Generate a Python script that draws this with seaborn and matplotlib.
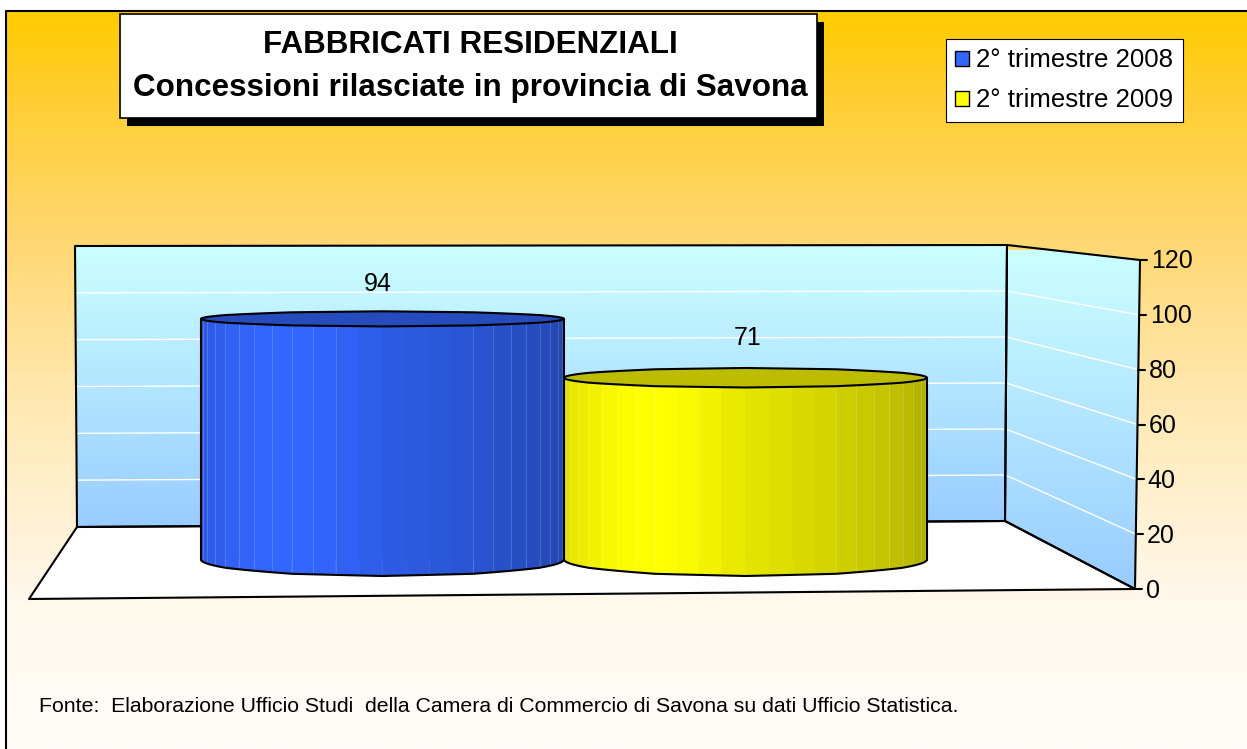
import numpy as np
import matplotlib
matplotlib.use('Agg')
import matplotlib.pyplot as plt
from matplotlib.patches import Polygon, Rectangle
import seaborn as sns

#chart values
periodi = ['2° trimestre 2008', '2° trimestre 2009']
valori = [94, 71]
colori = ['#3366FF', '#FFFF00']
tick_valori = [0, 20, 40, 60, 80, 100, 120]
titolo = 'FABBRICATI RESIDENZIALI\nConcessioni rilasciate in provincia di Savona'
fonte = 'Fonte:  Elaborazione Ufficio Studi  della Camera di Commercio di Savona su dati Ufficio Statistica.'

W, H = 1247, 749
LW = 1.5

sns.set_theme(style='white')
plt.rcParams['font.family'] = ['Liberation Sans', 'DejaVu Sans']
plt.rcParams['text.color'] = 'black'

fig = plt.figure(figsize=(W / 100, H / 100), dpi=100, facecolor='white')

#background axes in pixels, holds the fake 3d box
bg = fig.add_axes([0, 0, 1, 1], zorder=0)
bg.set_axis_off()


def gradient(ax, extent, stops, clip=None):
    pos = [s[0] for s in stops]
    rgb = np.array([matplotlib.colors.to_rgb(s[1]) for s in stops])
    t = np.linspace(0, 1, 256)
    img = np.stack([np.interp(t, pos, rgb[:, i]) for i in range(3)], axis=1)[:, None, :]
    im = ax.imshow(img, extent=extent, aspect='auto', zorder=1, interpolation='bilinear')
    if clip is not None:
        patch = Polygon(clip, closed=True, transform=ax.transData, facecolor='none', edgecolor='none')
        ax.add_patch(patch)
        im.set_clip_path(patch)
    return im


gradient(bg, (6, W, H, 11), [(0, '#FFCC00'), (0.12, '#FFCE33'), (0.3, '#FFD770'), (0.53, '#FFE8B2'), (0.8, '#FFF8EC'), (1, '#FFFCF8')])
bg.plot([6, 6, W], [H, 11, 11], color='black', lw=LW, zorder=2)

#box corners
back_l_top, back_l_bot = (75, 246), (77, 527)
back_r_top, back_r_bot = (1007, 245), (1005, 521)
front_r_top, front_r_bot = (1140, 260), (1135, 589)
front_l = (29, 599)

back_wall = [back_l_top, back_r_top, back_r_bot, back_l_bot]
side_wall = [back_r_top, front_r_top, front_r_bot, back_r_bot]
floor = [back_l_bot, back_r_bot, front_r_bot, front_l]

wall_stops = [(0, '#CCFFFF'), (1, '#99CCFF')]
gradient(bg, (60, 1020, 527, 246), wall_stops, back_wall)
gradient(bg, (1000, 1145, 589, 250), wall_stops, side_wall)
bg.add_patch(Polygon(floor, closed=True, facecolor='white', edgecolor='none', zorder=2))


def along(a, b, v):
    f = v / tick_valori[-1]
    return a[0] + (b[0] - a[0]) * f, a[1] + (b[1] - a[1]) * f


for v in tick_valori[1:-1]:
    bl = along(back_l_bot, back_l_top, v)
    br = along(back_r_bot, back_r_top, v)
    fr = along(front_r_bot, front_r_top, v)
    bg.plot([bl[0], br[0], fr[0]], [bl[1], br[1], fr[1]], color='white', lw=1.0, zorder=2)

for poly in (back_wall, side_wall, floor):
    bg.add_patch(Polygon(poly, closed=True, facecolor='none', edgecolor='black', lw=LW, joinstyle='round', zorder=3))

#value axis on the front right edge
for v in tick_valori:
    x, y = along(front_r_bot, front_r_top, v)
    bg.plot([x, x + 7], [y, y], color='black', lw=LW, zorder=3)
    bg.text(x + 11, y - 1, str(v), fontsize=18, va='center_baseline', ha='left', color='black', zorder=3)

#title box
bg.add_patch(Rectangle((127, 22), 697, 104, facecolor='black', edgecolor='none', zorder=4))
bg.add_patch(Rectangle((120, 14), 697, 104, facecolor='white', edgecolor='black', lw=1.2, zorder=5))
bg.text(470, 45, titolo.split('\n')[0], fontsize=22.6, fontweight='bold', ha='center', va='center', color='black', zorder=6)
bg.text(470, 88, titolo.split('\n')[1], fontsize=22.6, fontweight='bold', ha='center', va='center', color='black', zorder=6)

bg.text(39, 707, fonte, fontsize=15.3, ha='left', va='center', color='black', zorder=3)

bg.set_xlim(0, W)
bg.set_ylim(H, 0)

#bars, axes placed so that the plane through the cylinder axes lines up with the box
BASE_PX, SCALE_PX = 559.5, 2.56
left_px, right_px = 201, 927
top_px = BASE_PX - 120 * SCALE_PX
ax = fig.add_axes([left_px / W, 1 - BASE_PX / H, (right_px - left_px) / W, (BASE_PX - top_px) / H], zorder=1)
ax.patch.set_visible(False)

sns.barplot(x=periodi, y=valori, hue=periodi, palette=colori, dodge=False, width=1.0, saturation=1, ax=ax, legend=True)
ax.set_xlim(-0.5, 1.5)
ax.set_ylim(0, 120)


def shade(theta):
    return np.interp(theta, [0, 52, 68, 90, 180], [0.85, 1.0, 1.0, 0.9, 0.66])


def rim(v, sign, theta):
    #y of the polygonal rim, semi minor axis shrinks going up the picture
    semi = (16.5 - 0.095 * v) / SCALE_PX
    coarse = np.radians(np.arange(0, 181, 30))
    return v + sign * semi * np.interp(theta, coarse, np.sin(coarse))


def cylinder(bar, colore, z):
    x0, w, v = bar.get_x(), bar.get_width(), bar.get_height()
    rgb = np.array(matplotlib.colors.to_rgb(colore))
    r = w / 2
    cx = x0 + r
    edges = np.radians(np.arange(0, 180.1, 7.5))
    xs = cx - r * np.cos(edges)
    for i in range(len(edges) - 1):
        xx = [xs[i], xs[i + 1], xs[i + 1], xs[i]]
        yy = [rim(v, -1, edges[i]), rim(v, -1, edges[i + 1]), rim(0, -1, edges[i + 1]), rim(0, -1, edges[i])]
        c = rgb * shade(np.degrees(edges[i:i + 2].mean()))
        ax.fill(xx, yy, color=c, lw=0.3, clip_on=False, zorder=z)
        deg = np.degrees(edges[i])
        if i > 0 and (deg < 80 or deg > 115):
            ax.plot([xs[i], xs[i]], [rim(v, -1, edges[i]), rim(0, -1, edges[i])],
                    color='white', alpha=0.16, lw=0.7, clip_on=False, zorder=z + 0.1)
    dense = np.radians(np.linspace(0, 180, 37))
    dx = cx - r * np.cos(dense)
    top_back = rim(v, 1, dense)
    top_front = rim(v, -1, dense)
    bot_front = rim(0, -1, dense)
    #top face
    ax.fill(np.r_[dx, dx[::-1]], np.r_[top_back, top_front[::-1]], color=rgb * 0.74, lw=0, clip_on=False, zorder=z + 0.2)
    ol = dict(color='black', lw=LW, clip_on=False, zorder=z + 0.3, solid_joinstyle='round')
    ax.plot(dx, top_back, **ol)
    ax.plot(dx, top_front, **ol)
    ax.plot(dx, bot_front, **ol)
    ax.plot([dx[0], dx[0]], [v, 0], **ol)
    ax.plot([dx[-1], dx[-1]], [v, 0], **ol)


bars = [c[0] for c in ax.containers]
label_offsets = [(-3.6, 25.2), (1.4, 28.6)]
for bar, colore, z, off in sorted(zip(bars, colori, [4, 3], label_offsets), key=lambda t: t[2]):
    cylinder(bar, colore, z)
    ax.annotate(str(int(bar.get_height())), (bar.get_x() + bar.get_width() / 2, bar.get_height()),
                xytext=off, textcoords='offset points', ha='center', va='center',
                fontsize=18, color='black', annotation_clip=False, zorder=6)

ax.set_xlabel('')
ax.set_ylabel('')
ax.set_axis_off()

#legend
handles, labels = ax.get_legend_handles_labels()
leg = ax.legend(handles, labels, loc='upper left', bbox_to_anchor=(946 / W, 1 - 39 / H), bbox_transform=fig.transFigure,
                borderaxespad=0, fontsize=18.6, frameon=True, fancybox=False, framealpha=1, edgecolor='black',
                handlelength=0.52, handleheight=0.52, handletextpad=0.3, labelspacing=0.62, borderpad=0.36)
leg.get_frame().set_linewidth(0.8)
for h in leg.get_patches():
    h.set_edgecolor('black')
    h.set_linewidth(1.0)
for t in leg.get_texts():
    t.set_color('black')

fig.savefig('out.png', dpi=100)
